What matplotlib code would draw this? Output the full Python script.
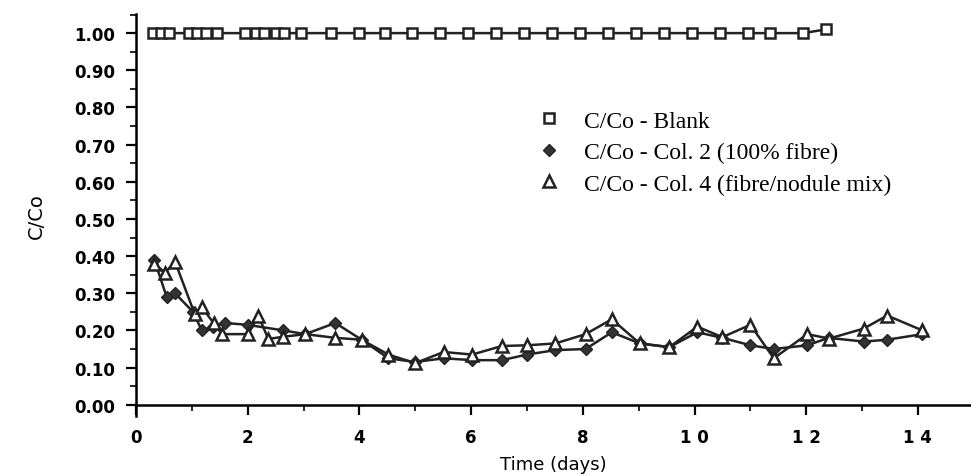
import matplotlib
matplotlib.use("Agg")
import matplotlib.pyplot as plt
from matplotlib.ticker import MultipleLocator, FixedLocator

# Blank column (C/Co)
blank_days = [0.3, 0.45, 0.6, 0.95, 1.1, 1.25, 1.45, 1.95, 2.15, 2.3, 2.5, 2.65, 2.95,
              3.5, 4.0, 4.45, 4.95, 5.45, 5.95, 6.45, 6.95, 7.45, 7.95, 8.45, 8.95,
              9.45, 9.95, 10.45, 10.95, 11.35, 11.95, 12.35]
blank_vals = [1.00] * 31 + [1.01]

# Column 2 (100% fibre)
col2_days = [0.33, 0.55, 0.70, 1.02, 1.18, 1.38, 1.60, 2.00, 2.64, 3.03, 3.57, 4.04,
             4.52, 5.00, 5.51, 6.02, 6.55, 7.00, 7.51, 8.05, 8.52, 9.02, 9.55, 10.05,
             10.50, 11.00, 11.42, 12.02, 12.40, 13.03, 13.45, 14.08]
col2_vals = [0.39, 0.29, 0.30, 0.25, 0.20, 0.21, 0.22, 0.215, 0.20, 0.19, 0.22, 0.175,
             0.125, 0.115, 0.125, 0.12, 0.12, 0.135, 0.147, 0.15, 0.195, 0.165, 0.155, 0.195,
             0.18, 0.16, 0.15, 0.16, 0.18, 0.17, 0.175, 0.19]

# Column 4 (fibre/nodule mix)
col4_days = [0.33, 0.52, 0.70, 1.05, 1.18, 1.39, 1.54, 2.01, 2.19, 2.37, 2.64, 3.03,
             3.57, 4.04, 4.52, 5.00, 5.51, 6.02, 6.55, 7.00, 7.51, 8.05, 8.52, 9.02,
             9.55, 10.05, 10.50, 11.00, 11.42, 12.02, 12.41, 13.03, 13.45, 14.08]
col4_vals = [0.38, 0.355, 0.385, 0.245, 0.262, 0.22, 0.19, 0.19, 0.24, 0.177, 0.183, 0.19,
             0.18, 0.175, 0.135, 0.112, 0.142, 0.135, 0.158, 0.16, 0.165, 0.19, 0.23, 0.165,
             0.155, 0.21, 0.182, 0.215, 0.125, 0.19, 0.178, 0.205, 0.24, 0.20]

x_ticks = [0, 2, 4, 6, 8, 10, 12, 14]
x_labels = ["0", "2", "4", "6", "8", "1 0", "1 2", "1 4"]
y_ticks = [0.0, 0.1, 0.2, 0.3, 0.4, 0.5, 0.6, 0.7, 0.8, 0.9, 1.0]

narrow = ["Liberation Sans Narrow", "DejaVu Sans"]
serif = ["Liberation Serif", "DejaVu Serif"]

fig = plt.figure(figsize=(9.71, 4.77), dpi=100)
ax = fig.add_axes([0.140, 0.126, 0.860, 0.843])

line_kw = dict(color="#222222", linewidth=1.8)
ax.plot(blank_days, blank_vals, marker="s", markersize=7.5, markerfacecolor="white",
        markeredgecolor="#222222", markeredgewidth=1.8, label="C/Co - Blank", **line_kw)
ax.plot(col2_days, col2_vals, marker="D", markersize=6.5, markerfacecolor="#333333",
        markeredgecolor="#222222", label="C/Co - Col. 2 (100% fibre)", **line_kw)
ax.plot(col4_days, col4_vals, marker="^", markersize=8, markerfacecolor="white",
        markeredgecolor="#222222", markeredgewidth=1.8,
        label="C/Co - Col. 4 (fibre/nodule mix)", **line_kw)

ax.set_xlim(0, 14.95)
ax.set_ylim(-0.03, 1.052)
ax.spines["top"].set_visible(False)
ax.spines["right"].set_visible(False)
ax.spines["bottom"].set_position(("data", 0))
ax.spines["left"].set_linewidth(1.8)
ax.spines["bottom"].set_linewidth(1.8)

ax.set_xticks(x_ticks)
ax.set_xticklabels(x_labels, family=narrow, fontweight="bold", fontsize=12)
ax.xaxis.set_minor_locator(FixedLocator([1, 3, 5, 7, 9, 11, 13]))
ax.set_yticks(y_ticks)
ax.set_yticklabels([f"{v:.2f}" for v in y_ticks], family=narrow, fontweight="bold", fontsize=12)
ax.yaxis.set_minor_locator(MultipleLocator(0.05))
ax.tick_params(axis="both", which="major", direction="out", length=7, width=1.6, pad=8)
ax.tick_params(axis="both", which="minor", direction="out", length=4, width=1.2)
ax.tick_params(axis="x", which="major", pad=10)

ax.set_xlabel("Time (days)", fontsize=13, labelpad=6)
ax.set_ylabel("C/Co", fontsize=14, labelpad=20)

ax.legend(loc="upper left", bbox_to_anchor=(0.455, 0.813), frameon=False,
          prop={"family": serif, "size": 17}, handlelength=1.0, handletextpad=1.0,
          labelspacing=0.42)
# legend handles show only the marker
for h in ax.get_legend().legend_handles:
    h.set_linestyle("None")

fig.savefig("out.png", dpi=100)
